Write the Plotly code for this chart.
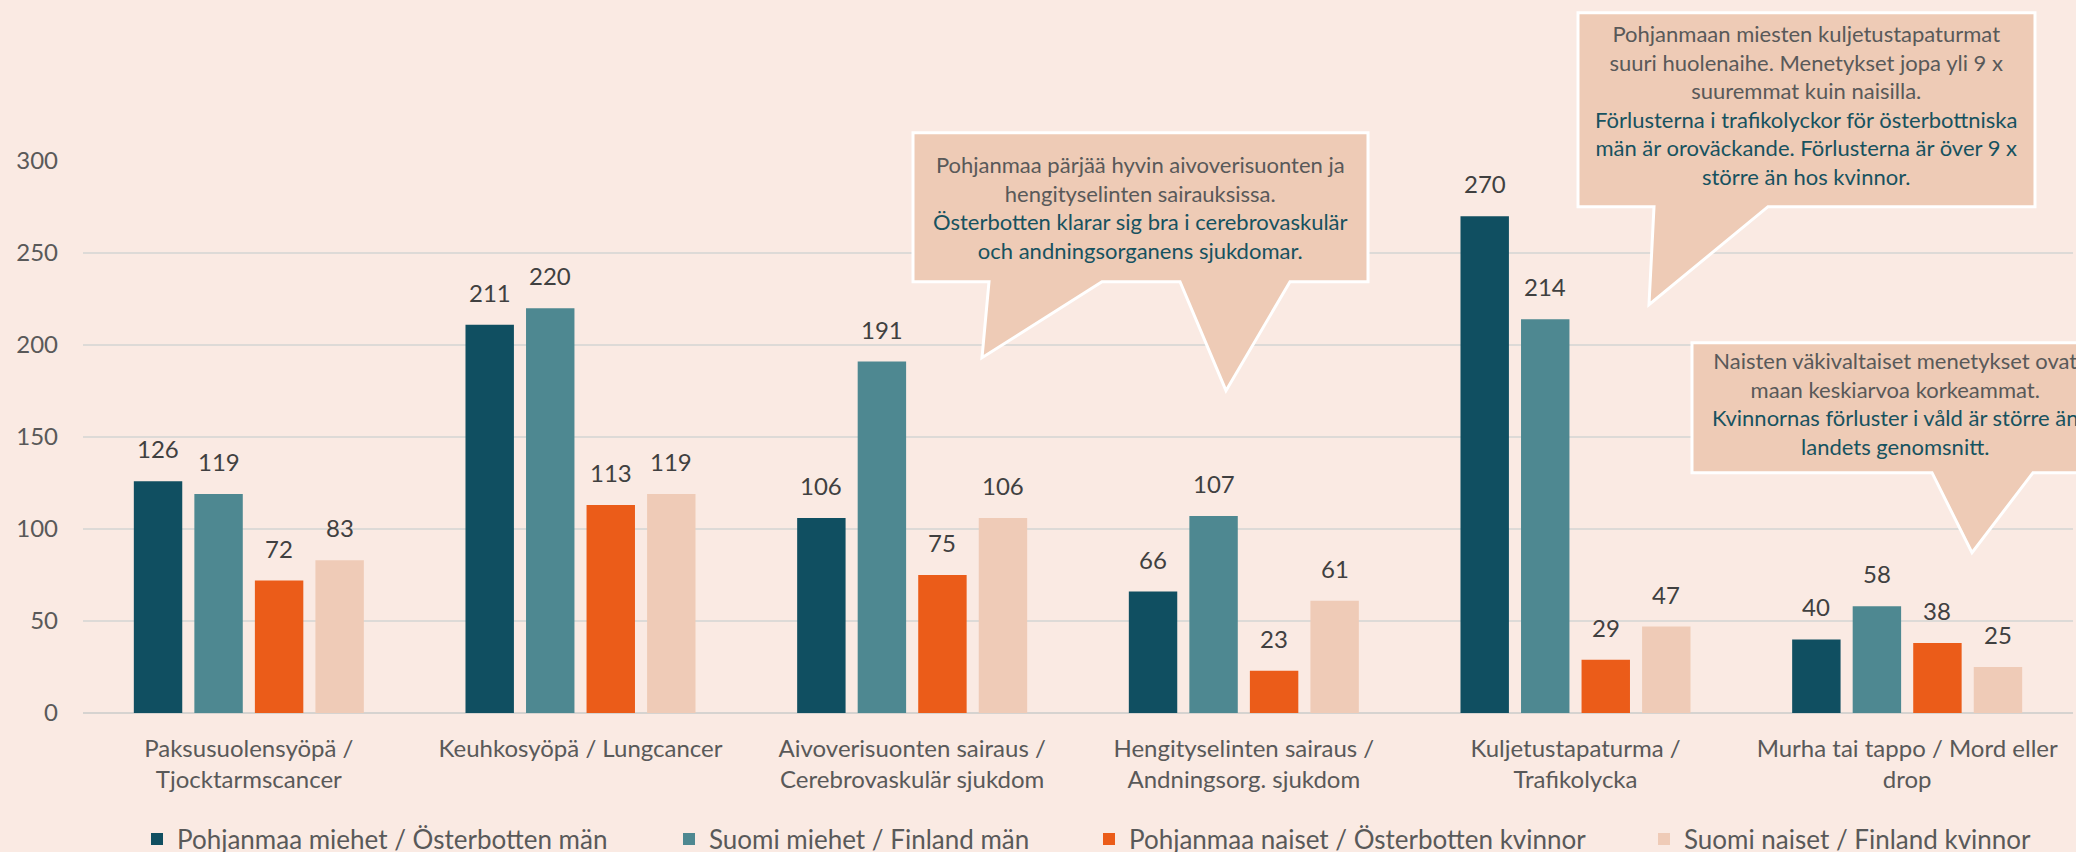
import plotly.graph_objects as go

categories = [
    "Paksusuolensyöpä /<br>Tjocktarmscancer",
    "Keuhkosyöpä / Lungcancer",
    "Aivoverisuonten sairaus /<br>Cerebrovaskulär sjukdom",
    "Hengityselinten sairaus /<br>Andningsorg. sjukdom",
    "Kuljetustapaturma /<br>Trafikolycka",
    "Murha tai tappo / Mord eller<br>drop",
]
series_names = [
    "Pohjanmaa miehet / Österbotten män",
    "Suomi miehet / Finland män",
    "Pohjanmaa naiset / Österbotten kvinnor",
    "Suomi naiset / Finland kvinnor",
]
pohjanmaa_miehet = [126, 211, 106, 66, 270, 40]
suomi_miehet = [119, 220, 191, 107, 214, 58]
pohjanmaa_naiset = [72, 113, 75, 23, 29, 38]
suomi_naiset = [83, 119, 106, 61, 47, 25]
y_ticks = [0, 50, 100, 150, 200, 250, 300]

series_values = [pohjanmaa_miehet, suomi_miehet, pohjanmaa_naiset, suomi_naiset]
colors = ["#104F61", "#4E8891", "#EB5C19", "#EFCBB7"]

W, H = 2076, 852
ML, MR, MT, MB = 83, 3, 161.3, 138.7
PW, PH = W - ML - MR, H - MT - MB
FONT = "Lato, 'Open Sans', sans-serif"
GRAY = "#595959"
TEAL_TXT = "#17525F"
BG = "#FAEAE3"


def px(x):
    return (x - ML) / PW


def py(y):
    return (H - MB - y) / PH


fig = go.Figure()
legend_ids = ["legend", "legend2", "legend3", "legend4"]
for name, vals, col, lg in zip(series_names, series_values, colors, legend_ids):
    fig.add_trace(go.Bar(
        x=categories, y=vals, name=name, marker=dict(color=col, line=dict(width=0)),
        legend=lg, hoverinfo="x+y+name",
    ))

# data labels
slot = PW / len(categories) * (1 - 0.27) / 4
offsets = [(-1.5 + i) * slot for i in range(4)]
for vals, off in zip(series_values, offsets):
    for c, v in zip(categories, vals):
        fig.add_annotation(x=c, y=v, xref="x", yref="y", text=str(v), showarrow=False,
                           xshift=off, yanchor="bottom", yshift=16,
                           font=dict(family=FONT, size=24, color="#404040"))

# callouts
callouts = [
    dict(pts=[(913, 133), (1368, 133), (1368, 282), (1290, 282), (1226, 391), (1180, 282),
              (1102, 282), (982, 358), (989, 282), (913, 282)],
         cx=1140, cy=208,
         fi=["Pohjanmaa pärjää hyvin aivoverisuonten ja", "hengityselinten sairauksissa."],
         sv=["Österbotten klarar sig bra i cerebrovaskulär", "och andningsorganens sjukdomar."]),
    dict(pts=[(1578, 13), (2035, 13), (2035, 207), (1768, 207), (1649, 305), (1654, 207), (1578, 207)],
         cx=1806, cy=105,
         fi=["Pohjanmaan miesten kuljetustapaturmat", "suuri huolenaihe. Menetykset jopa yli 9 x",
             "suuremmat kuin naisilla."],
         sv=["Förlusterna i trafikolyckor för österbottniska", "män är oroväckande. Förlusterna är över 9 x",
             "större än hos kvinnor."]),
    dict(pts=[(1692, 343), (2097, 343), (2097, 473), (2033, 473), (1972, 553), (1932, 473), (1692, 473)],
         cx=1894.5, cy=404,
         fi=["Naisten väkivaltaiset menetykset ovat", "maan keskiarvoa korkeammat."],
         sv=["Kvinnornas förluster i våld är större än", "landets genomsnitt."]),
]
for co in callouts:
    path = "M " + " L ".join(f"{px(x):.5f},{py(y):.5f}" for x, y in co["pts"]) + " Z"
    fig.add_shape(type="path", path=path, xref="paper", yref="paper",
                  fillcolor="#EECBB6", line=dict(color="white", width=3), layer="above")
    txt = "<br>".join(co["fi"]) + "<br>" + "<br>".join(
        f"<span style='color:{TEAL_TXT}'>{s}</span>" for s in co["sv"])
    fig.add_annotation(x=px(co["cx"]), y=py(co["cy"]), xref="paper", yref="paper",
                       text=txt, showarrow=False, xanchor="center", yanchor="middle",
                       align="center", font=dict(family=FONT, size=22, color=GRAY))

# legends (container-referenced so they do not push the margins)
leg_marker_x = [151, 683, 1103, 1658]
layout_legends = {}
for lg, mx in zip(legend_ids, leg_marker_x):
    layout_legends[lg] = dict(
        xref="container", yref="container",
        x=(mx - 14) / W, y=(H - 839) / H, xanchor="left", yanchor="middle", orientation="h",
        bgcolor="rgba(0,0,0,0)", font=dict(family=FONT, size=26, color=GRAY),
        itemclick=False, itemdoubleclick=False,
    )

fig.update_layout(
    width=W, height=H,
    margin=dict(l=ML, r=MR, t=MT, b=MB, pad=0, autoexpand=False),
    paper_bgcolor=BG, plot_bgcolor=BG,
    barmode="group", bargap=0.27, bargroupgap=0.2,
    font=dict(family=FONT, size=24, color=GRAY),
    showlegend=True,
    xaxis=dict(type="category", showgrid=False, zeroline=False, showline=False,
               ticks="", tickfont=dict(family=FONT, size=24, color=GRAY),
               ticklabelstandoff=19, automargin=False),
    yaxis=dict(range=[0, 300], tickvals=y_ticks, showgrid=True, gridcolor="#DDDAD7",
               gridwidth=1.5, zeroline=True, zerolinecolor="#D6D3D0", zerolinewidth=1.5,
               showline=False, ticks="", tickfont=dict(family=FONT, size=24, color=GRAY),
               ticklabelstandoff=24, automargin=False),
    **layout_legends,
)

fig.write_html("out.html", config={"displayModeBar": False},
               post_script="document.body.style.margin='0px';")
